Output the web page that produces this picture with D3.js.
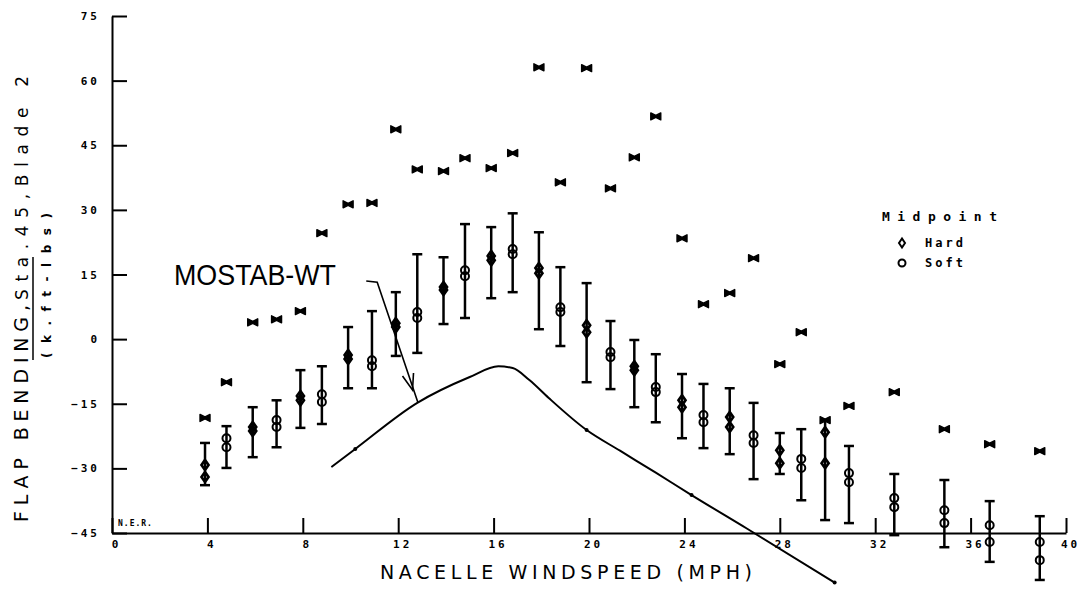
<!DOCTYPE html>
<html>
<head>
<meta charset="utf-8">
<script src="https://cdn.jsdelivr.net/npm/d3@7"></script>
<style>
  body { margin: 0; background: #fff; }
  svg { display: block; }
  .axis text { font-family: "DejaVu Sans Mono", monospace; font-weight: bold; font-size: 11px; letter-spacing: 3px; fill: #000; }
  .axis path, .axis line { stroke: #000; stroke-width: 2; }
</style>
</head>
<body>
<svg id="chart"></svg>
<script>
// Windspeed bins (mph)
const windspeeds = [3.9, 4.8, 5.9, 6.9, 7.9, 8.8, 9.9, 10.9, 11.9, 12.8, 13.9, 14.8, 15.9, 16.8, 17.9, 18.8,
  19.9, 20.9, 21.9, 22.8, 23.9, 24.8, 25.9, 26.9, 28.0, 28.9, 29.9, 30.9, 32.8, 34.9, 36.8, 38.9];
// Midpoint type per bin
const midpointType = ["Hard", "Soft", "Hard", "Soft", "Hard", "Soft", "Hard", "Soft", "Hard", "Soft", "Hard",
  "Soft", "Hard", "Soft", "Hard", "Soft", "Hard", "Soft", "Hard", "Soft", "Hard", "Soft", "Hard", "Soft",
  "Hard", "Soft", "Hard", "Soft", "Soft", "Soft", "Soft", "Soft"];
// Flap bending (k.ft-lbs): range bar ends and the two midpoint marks
const barTops = [-24.1, -20.2, -15.8, -14.2, -7.2, -6.3, 2.8, 6.5, 10.9, 19.7, 19.0, 26.7, 26.0, 29.2, 24.8, 16.7,
  13.0, 4.2, -0.2, -3.5, -8.1, -10.4, -11.4, -14.8, -21.8, -20.9, -18.8, -24.8, -31.3, -32.7, -37.6, -41.1];
const barBottoms = [-33.9, -29.9, -27.4, -25.1, -20.6, -19.7, -11.4, -11.4, -3.9, -3.2, 3.5, 4.9, 9.5, 10.9, 2.3, -1.6,
  -10.0, -11.6, -15.8, -19.3, -23.0, -25.3, -26.7, -32.5, -31.3, -37.4, -42.0, -42.7, -45.5, -48.3, -51.7, -55.9];
const midUpper = [-29.2, -23.0, -20.4, -18.8, -13.2, -12.8, -3.7, -4.9, 3.7, 6.3, 12.1, 16.0, 19.3, 20.9, 16.5, 7.4,
  3.2, -3.0, -6.3, -11.1, -14.2, -17.6, -18.1, -22.3, -25.8, -27.8, -21.6, -31.1, -36.9, -39.7, -43.2, -47.1];
const midLower = [-32.0, -25.1, -21.3, -20.4, -14.2, -14.6, -4.6, -6.3, 2.8, 4.9, 11.4, 14.6, 18.3, 19.7, 15.3, 6.3,
  1.6, -4.2, -7.2, -12.3, -15.8, -19.3, -20.4, -24.1, -28.8, -29.9, -28.8, -33.2, -39.0, -42.7, -47.1, -51.3];
// Peak values (the * marks)
const peakLoads = [-18.3, -10.0, 3.9, 4.6, 6.5, 24.6, 31.3, 31.6, 48.7, 39.4, 39.0, 42.0, 39.7, 43.2, 63.1, 36.4,
  62.9, 35.0, 42.2, 51.7, 23.4, 8.1, 10.7, 18.8, -5.8, 1.6, -18.8, -15.5, -12.3, -20.9, -24.4, -26.0];

// MOSTAB-WT prediction
const mostabWind = [9.2, 10.2, 12.8, 15.0, 16.2, 16.8, 17.5, 18.3, 19.9, 21.3, 22.8, 24.3, 26.6, 30.3];
const mostabMoment = [-29.7, -25.5, -14.8, -8.8, -6.3, -6.7, -9.5, -13.6, -21.1, -25.9, -31.0, -36.2, -43.9, -56.5];
const mostabDots = [10.2, 19.9, 24.3, 30.3];

const xTicks = [0, 4, 8, 12, 16, 20, 24, 28, 32, 36, 40];
const yTicks = [-45, -30, -15, 0, 15, 30, 45, 60, 75];

class FlapChart {
  constructor(_config) {
    this.config = {
      parentElement: _config.parentElement,
      containerWidth: _config.containerWidth || 1085,
      containerHeight: _config.containerHeight || 590,
      margin: _config.margin || { top: 16, right: 19, bottom: 57, left: 112 },
    };
    this.initVis();
  }

  initVis() {
    let vis = this;

    vis.width = vis.config.containerWidth - vis.config.margin.left - vis.config.margin.right;
    vis.height = vis.config.containerHeight - vis.config.margin.top - vis.config.margin.bottom;

    vis.xScale = d3.scaleLinear().domain([0, 40]).range([0, vis.width]);
    vis.yScale = d3.scaleLinear().domain([-45, 75]).range([vis.height, 0]);

    // ticks point inwards like the original plot
    vis.xAxis = d3.axisBottom(vis.xScale).tickValues(xTicks).tickSizeInner(-15).tickSizeOuter(0).tickPadding(7);
    vis.yAxis = d3.axisLeft(vis.yScale).tickValues(yTicks).tickSizeInner(-15).tickSizeOuter(0).tickPadding(12);

    vis.svg = d3.select(vis.config.parentElement)
      .attr("width", vis.config.containerWidth)
      .attr("height", vis.config.containerHeight);

    vis.chart = vis.svg.append("g")
      .attr("transform", `translate(${vis.config.margin.left},${vis.config.margin.top})`);

    vis.xAxisG = vis.chart.append("g").attr("class", "axis x-axis")
      .attr("transform", `translate(0,${vis.height})`);
    vis.yAxisG = vis.chart.append("g").attr("class", "axis y-axis");

    vis.diamond = "M0,-5L3.5,0L0,5L-3.5,0Z";
    vis.bowtie = "M-5,-3.5L0,-1L5,-3.5L5,3.5L0,1L-5,3.5Z";
  }

  updateVis() {
    let vis = this;
    vis.data = windspeeds.map((w, i) => ({
      wind: w, type: midpointType[i], top: barTops[i], bottom: barBottoms[i],
      mids: [midUpper[i], midLower[i]], peak: peakLoads[i]
    }));
    vis.mostab = mostabWind.map((w, i) => ({ wind: w, value: mostabMoment[i] }));
    vis.renderVis();
  }

  renderVis() {
    let vis = this;
    const x = vis.xScale, y = vis.yScale;

    // range bars
    const bars = vis.chart.selectAll(".bar").data(vis.data).join("g").attr("class", "bar")
      .attr("transform", (d) => `translate(${x(d.wind)},0)`)
      .attr("stroke", "#000").attr("stroke-width", 2.5).attr("fill", "none");
    bars.append("line").attr("y1", (d) => y(d.top)).attr("y2", (d) => y(d.bottom));
    bars.append("line").attr("x1", -5).attr("x2", 5).attr("y1", (d) => y(d.top)).attr("y2", (d) => y(d.top));
    bars.append("line").attr("x1", -5).attr("x2", 5).attr("y1", (d) => y(d.bottom)).attr("y2", (d) => y(d.bottom));

    // midpoint markers
    bars.selectAll(".mid")
      .data((d) => d.mids.map((m) => ({ value: m, type: d.type })))
      .join((enter) => enter.append((d) => document.createElementNS("http://www.w3.org/2000/svg", d.type === "Hard" ? "path" : "circle")))
      .attr("class", "mid")
      .attr("stroke-width", (d) => (d.type === "Hard" ? 2.7 : 2))
      .each(function (d) {
        const el = d3.select(this);
        if (d.type === "Hard") el.attr("d", vis.diamond).attr("transform", `translate(0,${y(d.value)})`);
        else el.attr("cx", 0).attr("cy", y(d.value)).attr("r", 4);
      });

    // peak values
    vis.chart.selectAll(".peak").data(vis.data).join("path").attr("class", "peak")
      .attr("d", vis.bowtie)
      .attr("transform", (d) => `translate(${x(d.wind)},${y(d.peak)})`)
      .attr("fill", "#000").attr("stroke", "#000").attr("stroke-width", 1.4).attr("stroke-linejoin", "round");

    // MOSTAB-WT curve
    const line = d3.line().x((d) => x(d.wind)).y((d) => y(d.value)).curve(d3.curveMonotoneX);
    vis.chart.append("path").datum(vis.mostab)
      .attr("d", line).attr("fill", "none").attr("stroke", "#000").attr("stroke-width", 2);
    const interp = d3.scaleLinear().domain(mostabWind).range(mostabMoment);
    vis.chart.selectAll(".mdot").data(mostabDots).join("circle").attr("class", "mdot")
      .attr("cx", (d) => x(d)).attr("cy", (d) => y(interp(d))).attr("r", 2).attr("fill", "#000");

    // annotation
    vis.chart.append("text")
      .attr("x", x(2.6)).attr("y", y(12.5))
      .attr("font-family", "Liberation Sans, Arial, sans-serif").attr("font-size", 30)
      .attr("textLength", 162).attr("lengthAdjust", "spacingAndGlyphs")
      .text("MOSTAB-WT");
    const p0 = [x(10.66), y(13.5)], p1 = [x(11.12), y(13.2)], p2 = [x(12.82), y(-14.6)];
    vis.chart.append("path")
      .attr("d", `M${p0}L${p1}L${p2}`)
      .attr("fill", "none").attr("stroke", "#000").attr("stroke-width", 1.6);
    const tip = [x(12.6), y(-11.8)];
    vis.chart.append("path")
      .attr("d", `M${tip[0] - 10},${tip[1] - 14}L${tip}L${tip[0] + 1},${tip[1] - 17}`)
      .attr("fill", "none").attr("stroke", "#000").attr("stroke-width", 1.6);

    // axes
    vis.xAxisG.call(vis.xAxis);
    vis.xAxisG.selectAll("text").attr("dx", 4);
    vis.yAxisG.call(vis.yAxis);

    vis.chart.append("text")
      .attr("x", 6).attr("y", vis.height - 7)
      .attr("font-family", "DejaVu Sans Mono, monospace").attr("font-weight", "bold")
      .attr("font-size", 8).attr("letter-spacing", 1)
      .text("N.E.R.");

    // axis titles
    vis.svg.append("text")
      .attr("x", 380).attr("y", 579)
      .attr("font-family", "DejaVu Sans, sans-serif").attr("font-size", 19)
      .attr("textLength", 372).attr("lengthAdjust", "spacing")
      .text("NACELLE WINDSPEED (MPH)");

    const yTitle = vis.svg.append("g").attr("font-family", "DejaVu Sans, sans-serif").attr("fill", "#000");
    yTitle.append("text")
      .attr("transform", "translate(28,522) rotate(-90)")
      .attr("font-size", 19).attr("textLength", 217).attr("lengthAdjust", "spacing")
      .text("FLAP BENDING,");
    yTitle.append("text")
      .attr("transform", "translate(28,300) rotate(-90)")
      .attr("font-size", 17).attr("textLength", 224).attr("lengthAdjust", "spacing")
      .text("Sta.45,Blade 2");
    yTitle.append("line")
      .attr("x1", 33).attr("x2", 33).attr("y1", 257).attr("y2", 360)
      .attr("stroke", "#000").attr("stroke-width", 1.5);
    yTitle.append("text")
      .attr("transform", "translate(51,358) rotate(-90)")
      .attr("font-size", 12).attr("font-weight", "bold")
      .attr("textLength", 145).attr("lengthAdjust", "spacing")
      .text("(k.ft-lbs)");

    // legend
    const legend = vis.svg.append("g").attr("font-family", "DejaVu Sans Mono, monospace")
      .attr("font-weight", "bold");
    legend.append("text").attr("x", 882).attr("y", 221).attr("font-size", 13)
      .attr("textLength", 115).attr("lengthAdjust", "spacing").text("Midpoint");
    const items = legend.selectAll(".item").data(["Hard", "Soft"]).join("g").attr("class", "item")
      .attr("transform", (d, i) => `translate(902,${243 + i * 20})`);
    items.filter((d) => d === "Hard").append("path").attr("d", "M0,-4.5L3,0L0,4.5L-3,0Z")
      .attr("fill", "none").attr("stroke", "#000").attr("stroke-width", 2);
    items.filter((d) => d === "Soft").append("circle").attr("r", 3.5)
      .attr("fill", "none").attr("stroke", "#000").attr("stroke-width", 2);
    items.append("text").attr("x", 23).attr("y", 4).attr("font-size", 12)
      .attr("letter-spacing", 3).text((d) => d);
  }
}

const chart = new FlapChart({ parentElement: "#chart" });
chart.updateVis();
</script>
</body>
</html>
